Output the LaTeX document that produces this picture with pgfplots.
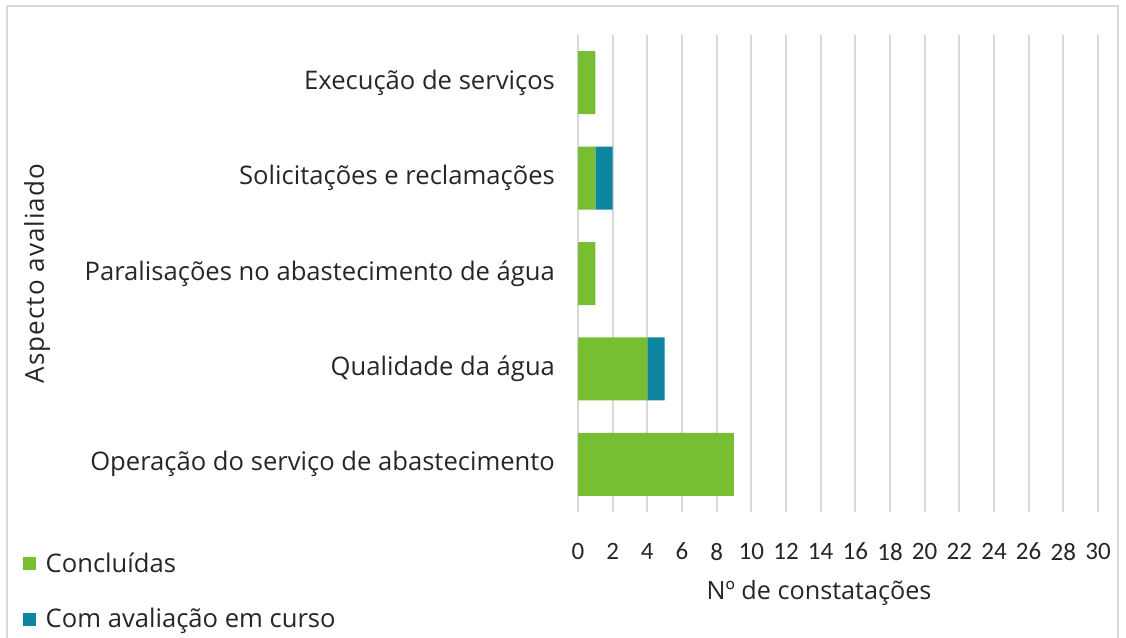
\documentclass[border=0pt]{standalone}
\usepackage{fontspec}
\setmainfont{Open Sans}
\newfontfamily\carlito{Carlito}
\usepackage{pgfplots}
\pgfplotsset{compat=1.18}
\definecolor{cgreen}{RGB}{120,190,50}
\definecolor{cteal}{RGB}{14,134,160}
\definecolor{cgrid}{RGB}{217,217,217}
\definecolor{ctext}{RGB}{38,38,38}
\begin{document}
\begin{tikzpicture}
\path[use as bounding box] (0,0) rectangle (563bp,319bp);
\draw[cgrid, line width=0.8bp] (3.5bp,-2bp) -- (3.5bp,316bp) -- (559bp,316bp) -- (559bp,-2bp);
\begin{axis}[
  at={(289bp,63bp)}, anchor=south west,
  scale only axis, width=260bp, height=238.5bp,
  xbar stacked, bar width=31.5bp, bar shift=0pt,
  xmin=0, xmax=30, xtick distance=2,
  ymin=-0.5, ymax=4.5,
  ytick={0,1,2,3,4},
  yticklabels={Operação do serviço de abastecimento, Qualidade da água, Paralisações no abastecimento de água, Solicitações e reclamações, Execução de serviços},
  axis line style={draw=none},
  major tick style={draw=none},
  xmajorgrids, grid style={cgrid, line width=0.9bp},
  /pgf/number format/assume math mode=true,
  xticklabel style={font=\carlito\fontsize{12.5bp}{14bp}\selectfont, text=ctext, yshift=-12bp},
  yticklabel style={font=\fontsize{12.8bp}{15bp}\selectfont, text=ctext, xshift=-8bp},
  xlabel={Nº de constatações},
  xlabel style={font=\fontsize{12.6bp}{15bp}\selectfont, text=ctext, at={(axis description cs:0.4635,0)}, anchor=center, yshift=-40.5bp},
  ylabel={Aspecto avaliado},
  ylabel style={font=\addfontfeature{LetterSpace=4}\fontsize{13bp}{15bp}\selectfont, text=ctext, at={(axis description cs:-1.040,0.5)}, anchor=center, rotate=0},
  legend style={at={(axis description cs:-1.069,-0.08)}, anchor=north west, draw=none, fill=none,
    font=\fontsize{12.8bp}{15bp}\selectfont, text=ctext, row sep=14.5bp, legend cell align=left, inner sep=0pt,
    nodes={inner xsep=5bp, inner ysep=1bp}},
  legend image code/.code={\fill[#1] (0bp,-3.3bp) rectangle (6.6bp,3.3bp);},
]
\addplot[fill=cgreen, draw=none] coordinates {(9,0) (4,1) (1,2) (1,3) (1,4)};
\addlegendentry{Concluídas}
\addplot[fill=cteal, draw=none] coordinates {(0,0) (1,1) (0,2) (1,3) (0,4)};
\addlegendentry{Com avaliação em curso}
\end{axis}
\end{tikzpicture}
\end{document}
